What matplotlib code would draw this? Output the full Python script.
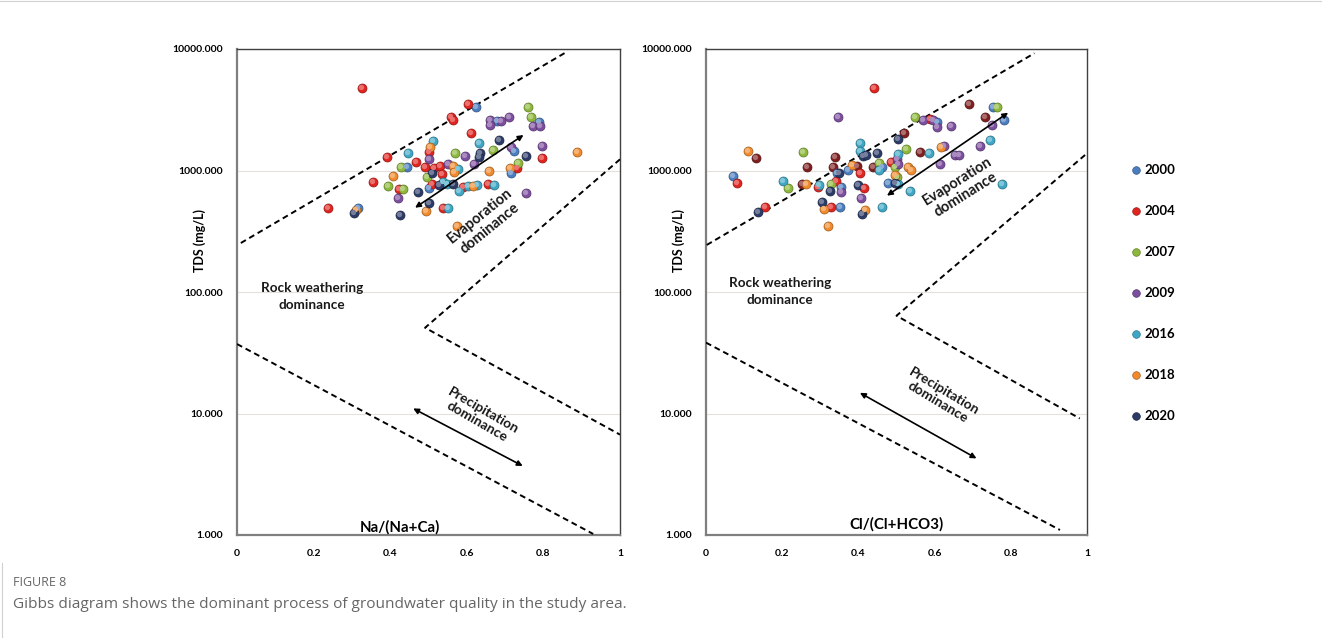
import matplotlib
matplotlib.use("Agg")
import matplotlib.pyplot as plt
import matplotlib.transforms as mtransforms
from matplotlib.lines import Line2D

plt.rcParams['font.family'] = ['Lato', 'DejaVu Sans']

# ---------------- data ----------------
years = ["2000", "2004", "2007", "2009", "2016", "2018", "2020"]
year_colors = ["#4A7EC0", "#E02420", "#8DB83B", "#7D4E9F", "#3FA7C6", "#F08A2C", "#2B3A66"]

# Left panel: Na/(Na+Ca) vs TDS
na_2000 = [0.624, 0.678, 0.789, 0.723, 0.443, 0.715, 0.501, 0.317]
tds_na_2000 = [3310, 2553, 2494, 1455, 1070, 948, 713, 489]
na_2004 = [0.326, 0.604, 0.559, 0.563, 0.610, 0.500, 0.796, 0.392, 0.467, 0.492, 0.515,
           0.530, 0.536, 0.730, 0.354, 0.424, 0.510, 0.589, 0.656, 0.237, 0.537]
tds_na_2004 = [4750, 3525, 2740, 2607, 2047, 1413, 1260, 1300, 1167, 1062, 1055,
               1089, 935, 1050, 800, 708, 774, 728, 769, 489, 494]
na_2007 = [0.761, 0.767, 0.569, 0.669, 0.733, 0.427, 0.495, 0.395, 0.433]
tds_na_2007 = [3310, 2740, 1403, 1475, 1160, 1062, 890, 750, 700]
na_2009 = [0.661, 0.661, 0.688, 0.711, 0.774, 0.791, 0.715, 0.796, 0.594, 0.502, 0.620,
           0.552, 0.421, 0.755]
tds_na_2009 = [2606, 2366, 2570, 2740, 2311, 2311, 1570, 1592, 1316, 1236, 1125,
               1125, 590, 649]
na_2016 = [0.633, 0.513, 0.447, 0.578, 0.539, 0.549, 0.580, 0.604, 0.627, 0.671, 0.552]
tds_na_2016 = [1694, 1759, 1385, 1023, 809, 774, 682, 750, 760, 760, 489]
na_2018 = [0.504, 0.889, 0.563, 0.567, 0.659, 0.713, 0.407, 0.615, 0.311, 0.493, 0.575]
tds_na_2018 = [1570, 1429, 1096, 977, 996, 1050, 907, 750, 473, 464, 349]
na_2020 = [0.685, 0.634, 0.633, 0.755, 0.508, 0.528, 0.563, 0.473, 0.500, 0.305, 0.426]
tds_na_2020 = [1783, 1385, 1300, 1316, 948, 760, 774, 661, 543, 450, 428]

# Right panel: Cl/(Cl+HCO3) vs TDS
cl_2000 = [0.753, 0.607, 0.783, 0.374, 0.461, 0.343, 0.070, 0.354, 0.477, 0.352]
tds_cl_2000 = [3350, 2494, 2580, 1010, 1070, 948, 900, 738, 785, 500]
cl_2004 = [0.442, 0.587, 0.485, 0.404, 0.082, 0.293, 0.341, 0.415, 0.328, 0.155]
tds_cl_2004 = [4810, 2640, 1180, 948, 785, 728, 820, 720, 500, 500]
cl_2007 = [0.765, 0.548, 0.524, 0.455, 0.496, 0.502, 0.255, 0.214, 0.328]
tds_cl_2007 = [3350, 2740, 1494, 1160, 1062, 890, 1429, 713, 769]
cl_2009 = [0.347, 0.570, 0.596, 0.607, 0.642, 0.751, 0.719, 0.625, 0.500, 0.505,
           0.654, 0.665, 0.614, 0.354, 0.406]
tds_cl_2009 = [2740, 2580, 2606, 2294, 2330, 2366, 1592, 1600, 1236, 1125,
               1342, 1342, 1125, 660, 596]
cl_2016 = [0.746, 0.404, 0.584, 0.404, 0.503, 0.455, 0.201, 0.297, 0.505, 0.535, 0.778, 0.463]
tds_cl_2016 = [1783, 1694, 1403, 1455, 1370, 1010, 826, 760, 774, 682, 769, 500]
cl_2018 = [0.617, 0.109, 0.384, 0.529, 0.539, 0.496, 0.262, 0.311, 0.417, 0.319]
tds_cl_2018 = [1570, 1445, 1110, 1062, 1010, 920, 769, 484, 473, 351]
cl_2020 = [0.503, 0.413, 0.421, 0.450, 0.350, 0.325, 0.400, 0.496, 0.305, 0.409, 0.137]
tds_cl_2020 = [1806, 1316, 1342, 1403, 948, 677, 760, 785, 547, 436, 458]
# additional dark-red series shown only in the right panel (not in the legend)
extra_color = "#7E1E1E"
cl_extra = [0.690, 0.733, 0.520, 0.562, 0.130, 0.339, 0.266, 0.333, 0.397, 0.439, 0.253]
tds_cl_extra = [3525, 2740, 2047, 1429, 1260, 1300, 1060, 1060, 1089, 1062, 774]

# Gibbs boundary lines (x, TDS)
na_upper_x = [0.010, 0.864]
na_upper_y = [253, 9600]
na_right_x = [1.0, 0.491, 1.0]
na_right_y = [1236, 50.8, 6.7]
na_lower_x = [0.0, 0.930]
na_lower_y = [37.3, 1.02]

cl_upper_x = [0.002, 0.862]
cl_upper_y = [244, 9230]
cl_right_x = [0.995, 0.500, 0.981]
cl_right_y = [1342, 63.8, 9.1]
cl_lower_x = [0.0, 0.929]
cl_lower_y = [38.3, 1.1]

# process arrows (x0, y0, x1, y1)
na_evap_arrow = [0.465, 494, 0.748, 1959]
na_prec_arrow = [0.460, 11.0, 0.746, 3.70]
cl_evap_arrow = [0.475, 621, 0.793, 2990]
cl_prec_arrow = [0.404, 14.8, 0.710, 4.27]

yticks = [1, 10, 100, 1000, 10000]
ytick_labels = ["1.000", "10.000", "100.000", "1000.000", "10000.000"]
xticks = [0, 0.2, 0.4, 0.6, 0.8, 1]
xtick_labels = ["0", "0.2", "0.4", "0.6", "0.8", "1"]

left_series = [(na_2000, tds_na_2000), (na_2004, tds_na_2004), (na_2007, tds_na_2007),
               (na_2009, tds_na_2009), (na_2016, tds_na_2016), (na_2018, tds_na_2018),
               (na_2020, tds_na_2020)]
right_series = [(cl_2000, tds_cl_2000), (cl_2004, tds_cl_2004), (cl_2007, tds_cl_2007),
                (cl_2009, tds_cl_2009), (cl_2016, tds_cl_2016), (cl_2018, tds_cl_2018),
                (cl_2020, tds_cl_2020)]

# ---------------- figure ----------------
W, H = 1322, 638
fig = plt.figure(figsize=(W / 100, H / 100), dpi=100)


def px(x, y):
    return x / W, 1 - y / H


def lighten(c, f):
    import matplotlib.colors as mc
    r, g, b = mc.to_rgb(c)
    return (r + (1 - r) * f, g + (1 - g) * f, b + (1 - b) * f)


def darken(c, f):
    import matplotlib.colors as mc
    r, g, b = mc.to_rgb(c)
    return (r * (1 - f), g * (1 - f), b * (1 - f))


def balls(ax, x, y, color, s=42):
    ax.scatter(x, y, s=s, color=color, edgecolors=darken(color, 0.35), linewidths=0.5, zorder=5)
    off = mtransforms.offset_copy(ax.transData, fig=fig, x=-1.0, y=1.0, units='dots')
    ax.scatter(x, y, s=s * 0.35, color=lighten(color, 0.35), linewidths=0, zorder=6, transform=off)


def setup(ax):
    ax.set_yscale('log')
    ax.set_xlim(0, 1)
    ax.set_ylim(1, 10000)
    ax.set_yticks(yticks)
    ax.set_yticklabels(ytick_labels, fontsize=7.5, fontweight='bold')
    ax.set_xticks(xticks)
    ax.set_xticklabels(xtick_labels, fontsize=7.5, fontweight='bold')
    ax.minorticks_off()
    ax.tick_params(length=0, pad=10)
    ax.tick_params(axis='y', pad=10)
    ax.grid(axis='y', which='major', color='#E6E0DC', lw=0.8)
    ax.set_axisbelow(True)
    for side in ['left', 'bottom']:
        ax.spines[side].set_color('#7F7F7F')
        ax.spines[side].set_linewidth(1.6)
    for side in ['top', 'right']:
        ax.spines[side].set_color('#404040')
        ax.spines[side].set_linewidth(1.0)


def dashed(ax, x, y):
    ax.plot(x, y, color='black', lw=1.4, ls=(0, (3, 2)), zorder=3)


def arrow(ax, a):
    ax.annotate('', xy=(a[2], a[3]), xytext=(a[0], a[1]),
                arrowprops=dict(arrowstyle='<|-|>', color='black', lw=1.2,
                                mutation_scale=8, shrinkA=0, shrinkB=0), zorder=7)


axL = fig.add_axes([237 / W, 1 - 535 / H, 383 / W, 486 / H])
axR = fig.add_axes([706 / W, 1 - 535 / H, 381 / W, 486 / H])

for ax in (axL, axR):
    setup(ax)

for (x, y), c in zip(left_series, year_colors):
    balls(axL, x, y, c)
balls(axR, cl_extra, tds_cl_extra, extra_color)
for (x, y), c in zip(right_series, year_colors):
    balls(axR, x, y, c)

dashed(axL, na_upper_x, na_upper_y)
dashed(axL, na_right_x, na_right_y)
dashed(axL, na_lower_x, na_lower_y)
dashed(axR, cl_upper_x, cl_upper_y)
dashed(axR, cl_right_x, cl_right_y)
dashed(axR, cl_lower_x, cl_lower_y)

arrow(axL, na_evap_arrow)
arrow(axL, na_prec_arrow)
arrow(axR, cl_evap_arrow)
arrow(axR, cl_prec_arrow)

tkw = dict(fontsize=10.5, fontweight='bold', ha='center', va='center', color='#1a1a1a',
           linespacing=1.1)
fig.text(*px(485, 222), "Evaporation\ndominance", rotation=39, **tkw)
fig.text(*px(962, 188), "Evaporation\ndominance", rotation=32, **tkw)
fig.text(*px(480, 416), "Precipitation\ndominance", rotation=-30, **dict(tkw, fontsize=10))
fig.text(*px(941, 397), "Precipitation\ndominance", rotation=-31, **dict(tkw, fontsize=10))
fig.text(*px(312, 297), "Rock weathering\ndominance", **dict(tkw, fontsize=9.7, linespacing=1.5))
fig.text(*px(780, 292), "Rock weathering\ndominance", **dict(tkw, fontsize=9.7, linespacing=1.5))

fig.text(*px(400, 527), "Na/(Na+Ca)", fontsize=10.8, fontweight='bold', ha='center', va='center')
fig.text(*px(896, 524), "Cl/(Cl+HCO3)", fontsize=10.8, fontweight='bold', ha='center', va='center')
fig.text(*px(200, 240), "TDS (mg/L)", fontsize=9, fontweight='bold', rotation=90, ha='center', va='center')
fig.text(*px(679, 240), "TDS (mg/L)", fontsize=9, fontweight='bold', rotation=90, ha='center', va='center')

# legend
handles = [Line2D([], [], marker='o', ls='none', markersize=5.5, markerfacecolor=c,
                  markeredgecolor=darken(c, 0.3), markeredgewidth=0.5) for c in year_colors]
fig.legend(handles, years, loc='upper left', bbox_to_anchor=px(1124, 159), frameon=False,
           prop={'weight': 'bold', 'size': 9.5}, labelspacing=2.2, handletextpad=0.15,
           handlelength=1.0, borderaxespad=0)

# caption
fig.text(*px(13, 582), "FIGURE 8", fontsize=9, color='#666666', family=['Open Sans', 'DejaVu Sans'],
         ha='left', va='center')
fig.text(*px(13, 604), "Gibbs diagram shows the dominant process of groundwater quality in the study area.",
         fontsize=11.1, color='#666666', family=['Open Sans', 'DejaVu Sans'], ha='left', va='center')
fig.add_artist(Line2D([0, 1], [1 - 1 / H, 1 - 1 / H], transform=fig.transFigure, color='#D0D0D0', lw=0.8))
fig.add_artist(Line2D([2 / W, 2 / W], [0, 1 - 563 / H], transform=fig.transFigure, color='#D0D0D0', lw=0.8))

fig.savefig("out.png", dpi=100)
